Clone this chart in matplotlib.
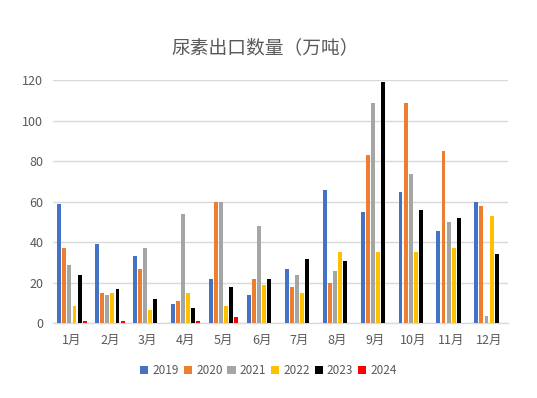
import matplotlib
matplotlib.use("Agg")
import matplotlib.pyplot as plt
import numpy as np
from matplotlib.patches import Patch

plt.rcParams['font.family'] = ['Noto Sans CJK SC', 'DejaVu Sans']

# 数据（万吨）
months = ["1月", "2月", "3月", "4月", "5月", "6月",
          "7月", "8月", "9月", "10月", "11月", "12月"]
years = ["2019", "2020", "2021", "2022", "2023", "2024"]

v2019 = [59, 39, 33, 9.5, 22, 14, 27, 66, 55, 65, 45.5, 60]
v2020 = [37, 15, 27, 11, 60, 22, 18, 20, 83, 109, 85, 58]
v2021 = [29, 14, 37, 54, 60, 48, 24, 26, 109, 74, 50, 3.5]
v2022 = [8.5, 15, 6.5, 15, 8.5, 19, 15, 35, 35, 35, 37, 53]
v2023 = [24, 17, 12, 7.5, 18, 22, 32, 31, 119, 56, 52, 34]
v2024 = [1.2, 1.2, np.nan, 1.2, 3.2, np.nan,
         np.nan, np.nan, np.nan, np.nan, np.nan, np.nan]

series = [v2019, v2020, v2021, v2022, v2023, v2024]
colors = ["#4472C4", "#ED7D31", "#A5A5A5", "#FFC000", "#000000", "#FF0000"]

TEXT = "#595959"
GRID = "#D9D9D9"

fig = plt.figure(figsize=(5.37, 3.98), dpi=100)
ax = fig.add_axes([0.0987, 0.1877, 0.8473, 0.6103])

x = np.arange(len(months))
slot = 0.134
width = 0.105
for i, (vals, c) in enumerate(zip(series, colors)):
    offs = (i - (len(series) - 1) / 2) * slot
    ax.bar(x + offs, vals, width=width, color=c, zorder=3, linewidth=0)

ax.set_xlim(-0.5, len(months) - 0.5)
ax.set_ylim(0, 120)
ax.set_yticks(np.arange(0, 121, 20))
ax.set_xticks(x)
ax.set_xticklabels(months)
ax.yaxis.grid(True, color=GRID, linewidth=1, zorder=0)
ax.set_axisbelow(True)

for s in ["top", "right", "left"]:
    ax.spines[s].set_visible(False)
ax.spines["bottom"].set_color(GRID)
ax.spines["bottom"].set_linewidth(1)

ax.tick_params(axis='both', length=0, colors=TEXT, labelsize=9)
ax.tick_params(axis='x', pad=8)
ax.tick_params(axis='y', pad=7)

fig.text(0.494, 0.879, "尿素出口数量（万吨）", ha='center', va='center',
         fontsize=13.5, color=TEXT)

handles = [Patch(facecolor=c, edgecolor='none', label=y) for c, y in zip(colors, years)]
fig.legend(handles=handles, loc='center', bbox_to_anchor=(0.5, 0.068), ncol=6,
           frameon=False, fontsize=8.5, labelcolor=TEXT,
           handlelength=0.7, handleheight=0.7, handletextpad=0.35, columnspacing=0.4)

fig.savefig("out.png", dpi=100)
